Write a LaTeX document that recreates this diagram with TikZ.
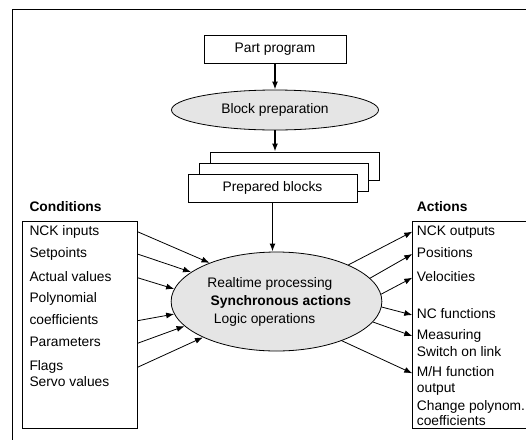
\documentclass[tikz,border=0pt]{standalone}
\usepackage{fontspec}
\setmainfont{Liberation Sans}
\usetikzlibrary{arrows.meta,shapes.geometric}

\begin{document}
\begin{tikzpicture}[x=1pt,y=-1pt,
    font=\fontsize{13.8}{18}\selectfont,
    boite/.style={draw, line width=0.8pt, fill=white, inner sep=0pt, minimum width=142pt, minimum height=28pt},
    bulle/.style={draw, line width=0.8pt, ellipse, fill=gray!20, inner sep=0pt},
    liste/.style={draw, line width=0.8pt, anchor=north west, inner sep=0pt, minimum height=207.6pt},
    item/.style={anchor=west, inner sep=0pt, text height=10pt, text depth=3pt},
    titre/.style={item, font=\fontsize{13.8}{18}\selectfont\bfseries},
    fleche/.style={-{Latex[length=8pt,width=6pt]}, line width=0.8pt},
    grosse/.style={-{Latex[length=8pt,width=6pt]}, line width=1.8pt}]

  \useasboundingbox (0,0) rectangle (526,439);

  % Cadre
  \draw[line width=0.8pt] (527,9) -- (12,9) -- (12,440);

  % Chaine de preparation
  \node[boite] (pp) at (275,49) {Part program};
  \node[bulle, minimum width=207pt, minimum height=40pt] (bp) at (275,110) {Block preparation};
  \node[boite, minimum width=169pt] (pb3) at (294.5,166) {};
  \node[boite, minimum width=169pt] (pb2) at (283.5,177) {};
  \node[boite, minimum width=169pt] (pb1) at (272.5,188) {Prepared blocks};

  % Traitement temps reel
  \node[bulle, minimum width=207pt, minimum height=99pt, align=left] (proc) at (276.5,301.5)
    {\hspace*{5.4pt}Realtime processing\\
     \hspace*{8.7pt}\textbf{Synchronous actions}\\
     \hspace*{12pt}Logic operations};

  \draw[grosse] (pp) -- (bp);
  \draw[grosse] (bp.south) -- (bp.south |- pb3.north);
  \draw[grosse] (pb1.south) -- (pb1.south |- proc.north);

  % Conditions
  \node[titre] (ctitre) at (29.3,208) {Conditions};
  \node[liste, minimum width=114.4pt] (cond) at (22.3,220.7) {};
  \foreach \y/\t [count=\i] in {231.7/NCK inputs, 254/Setpoints, 277.7/Actual values,
      299.3/Polynomial, 320.7/coefficients, 343.3/Parameters, 367.3/Flags, 383.3/Servo values}
    \node[item] (c\i) at (29.3,\y) {\t};

  \foreach \c/\a in {c1/150, c2/161, c3/173, c5/187, c6/195, c7/206}
    \draw[fleche] (cond.east |- \c) -- (proc.\a);

  % Actions
  \node[titre] (atitre) at (416.7,208) {Actions};
  \node[liste, minimum width=115pt] (act) at (412.3,220.7) {};
  \foreach \y/\t [count=\i] in {231.7/NCK outputs, 254/Positions, 277.7/Velocities,
      315/NC functions, 336/Measuring, 353.3/Switch on link, 373.3/{M/H function},
      389.3/output, 406.7/Change polynom., 421.7/coefficients}
    \node[item] (a\i) at (416.7,\y) {\t};

  \foreach \a/\c in {27.5/a1, 14.7/a2, 4.8/a3, -3/a4, -12.2/a5, -31/a7}
    \draw[fleche] (proc.\a) -- (act.west |- \c);
\end{tikzpicture}
\end{document}
